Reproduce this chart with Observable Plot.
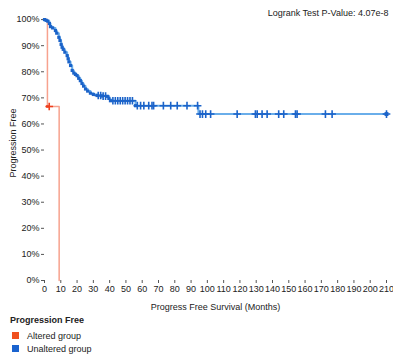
<!DOCTYPE html>
<html>
<head>
<meta charset="utf-8">
<script src="https://cdn.jsdelivr.net/npm/d3@7"></script>
<script src="https://cdn.jsdelivr.net/npm/@observablehq/plot@0.6"></script>
<style>
  body { margin: 0; background: #fff; font-family: "Liberation Sans", Arial, sans-serif; }
  #legend { margin-left: 10px; font-size: 9px; color: #222; }
  #legend .title { font-weight: bold; margin: 2px 0 4px 0; }
  #legend .item { display: flex; align-items: center; height: 13px; }
  #legend .sw { width: 7px; height: 7px; margin: 0 8px 0 2px; }
</style>
</head>
<body>
<div id="chart"></div>
<script>
// Unaltered group: KM step points (months, % progression free)
const unalteredTimes = [0,1,2,3,3.7,5,6.7,7.5,8.8,9.5,10.2,10.8,11.5,12.5,13.9,14.5,15,16,17,18,19,20,21,22,23,24,25.2,26.5,28.2,30,32.3,35,38.5,39.5,40.5,55.9,94.5,210];
const unalteredSurv  = [100,99.7,99.4,98.5,97.3,96.8,95.8,94.8,93.2,92,90.5,89.4,88.6,87.5,86.2,85,83.8,82.4,80.5,79.5,79,78.5,77.5,76.6,75.5,74.5,73.4,72.6,71.8,71.3,70.9,70.7,70.6,69.8,68.9,67.0,63.8,63.8];
// Unaltered censored times
const unalteredCensor = [33,34.5,36,37.5,42,43.5,45,46.5,48,49.5,51,52.5,54,57,59,61,64,66,67,73,77.5,81.5,87.5,94,95.5,97,99,102,118.3,129.5,130.6,133.6,136.7,143.8,146.9,154.1,155.1,172.5,176.6,210];
// Altered group
const alteredTimes = [0,1.8,9];
const alteredSurv  = [100,66.7,0];
const alteredCensor = [2.9];

const xTicks = d3.range(0, 211, 10);
const yTicks = d3.range(0, 101, 10);
const pValueText = "Logrank Test P-Value: 4.07e-8";

function km(times, surv) { return times.map((t, i) => ({t, s: surv[i]})); }
function survAt(times, surv, c) {
  let s = surv[0];
  for (let i = 0; i < times.length; i++) if (times[i] <= c) s = surv[i];
  return s;
}
const un = km(unalteredTimes, unalteredSurv);
const al = km(alteredTimes, alteredSurv);
const unC = unalteredCensor.map(t => ({t, s: survAt(unalteredTimes, unalteredSurv, t)}));
const alC = alteredCensor.map(t => ({t, s: survAt(alteredTimes, alteredSurv, t)}));

const blueLine = "#6aaeea", blueMark = "#1b63c9";
const redLine = "#f7a28e", redMark = "#ef3f1d";

const plot = Plot.plot({
  width: 393,
  height: 313,
  marginLeft: 44,
  marginRight: 7,
  marginTop: 5,
  marginBottom: 33,
  style: {fontFamily: "'Liberation Sans', Arial, sans-serif", fontSize: "9px", color: "#222", background: "#fff"},
  x: {domain: [0, 210], ticks: xTicks},
  y: {domain: [0, 105.4], ticks: yTicks},
  marks: [
    Plot.axisX({ticks: xTicks, tickSize: 3, tickPadding: 2, line: true, label: "Progress Free Survival (Months)", labelAnchor: "center", labelOffset: 29, labelArrow: "none", stroke: "#555"}),
    Plot.axisY({ticks: yTicks, tickSize: 3, tickPadding: 2, line: true, tickFormat: d => d + "%", label: "Progression Free", labelAnchor: "center", labelOffset: 35, labelArrow: "none", stroke: "#555"}),
    Plot.line(al, {x: "t", y: "s", curve: "step-after", stroke: redLine, strokeWidth: 1.5}),
    Plot.line(un, {x: "t", y: "s", curve: "step-after", stroke: blueLine, strokeWidth: 2}),
    Plot.dot(un.slice(0, -2), {x: "t", y: "s", symbol: "square", r: 1.8, fill: blueMark}),
    Plot.dot(unC, {x: "t", y: "s", symbol: "plus", r: 2.6, stroke: blueMark, strokeWidth: 1.6}),
    Plot.dot(unC.slice(-1), {x: "t", y: "s", symbol: "square", r: 2.2, fill: blueMark}),
    Plot.dot(alC, {x: "t", y: "s", symbol: "plus", r: 2.6, stroke: redMark, strokeWidth: 1.6}),
    Plot.dot(al.slice(1, 2), {x: "t", y: "s", symbol: "square", r: 1.5, fill: redMark}),
    Plot.text([pValueText], {frameAnchor: "top-right", dx: 2, dy: 8, lineAnchor: "middle", textAnchor: "end", fill: "#222", fontSize: 9})
  ]
});
document.getElementById("chart").appendChild(plot);

const legend = document.createElement("div");
legend.id = "legend";
legend.innerHTML = `<div class="title">Progression Free</div>
<div class="item"><span class="sw" style="background:#f0501f"></span>Altered group</div>
<div class="item"><span class="sw" style="background:#1a63cf"></span>Unaltered group</div>`;
document.getElementById("chart").appendChild(legend);
</script>
</body>
</html>
